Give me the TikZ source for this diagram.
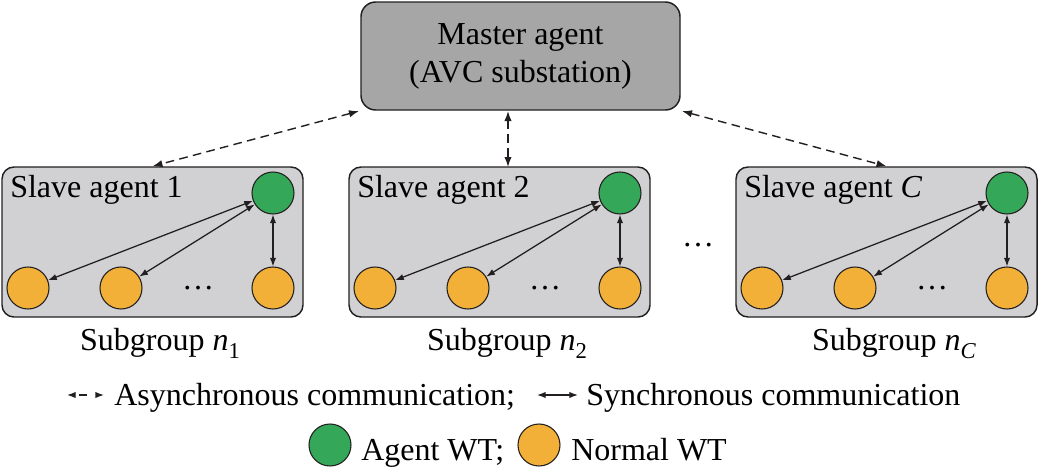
\documentclass[tikz,border=0pt]{standalone}
\usepackage{fontspec}
\setmainfont{Liberation Serif}
\usetikzlibrary{arrows.meta,calc}
\definecolor{wtgreen}{RGB}{52,168,88}
\definecolor{wtorange}{RGB}{243,176,56}
\definecolor{mastergray}{RGB}{166,166,166}
\definecolor{slavegray}{RGB}{209,209,211}
\definecolor{ink}{RGB}{35,31,32}
\newcommand\mysub[1]{\raisebox{-6pt}{\fontsize{17}{17}\selectfont #1}}
\begin{document}
\begin{tikzpicture}[x=0.75pt,y=-0.75pt,
  font=\fontsize{24}{28.5}\selectfont,
  masterbox/.style={draw=ink,line width=1.1pt,fill=mastergray,rounded corners=11pt,
    minimum width=239.25pt,minimum height=81pt,inner sep=0pt,align=center},
  slavebox/.style={draw=ink,line width=1.1pt,fill=slavegray,rounded corners=9pt,
    minimum width=225.75pt,minimum height=112.5pt,inner sep=0pt},
  agentwt/.style={circle,draw=ink,line width=0.8pt,fill=wtgreen,minimum size=31.5pt,inner sep=0pt},
  normalwt/.style={circle,draw=ink,line width=0.8pt,fill=wtorange,minimum size=31.5pt,inner sep=0pt},
  txt/.style={inner sep=0pt},
  sync/.style={draw=ink,line width=0.95pt,{Latex[length=6.5pt,width=4.8pt]}-{Latex[length=6.5pt,width=4.8pt]}},
  async/.style={draw=ink,line width=1.05pt,dash pattern=on 6.5pt off 4pt,
    {Latex[length=7.5pt,width=5.5pt]}-{Latex[length=7.5pt,width=5.5pt]}}
]
\path[use as bounding box] (0,0) rectangle (1041,468);

% master
\node[masterbox] (m) at (520.5,56) {Master agent\\(AVC substation)};

% slave groups
\foreach \i/\bx/\lab/\sb in {1/2/1/1, 2/349/2/2, C/736/\textit{C}/\textit{C}}{
  \node[slavebox] (s\i) at (\bx+150.5,242) {};
  \node[txt,anchor=base west] (sl\i) at (\bx+8,197) {Slave agent \lab};
  \node[agentwt] (g\i) at (\bx+271,193) {};
  \node[normalwt] (oa\i) at (\bx+26,288) {};
  \node[normalwt] (ob\i) at (\bx+119,288) {};
  \node[normalwt] (oc\i) at (\bx+271,288) {};
  \node[txt] (d\i) at (\bx+196,288) {\ldots};
  \draw[sync] (g\i) -- (oa\i);
  \draw[sync] (g\i) -- (ob\i);
  \draw[sync] (g\i) -- (oc\i);
  \node[txt,anchor=base] (sg\i) at (\bx+158,350) {Subgroup \textit{n}\mysub{\sb}};
}
\node[txt] (middots) at (698,245) {\ldots};

% asynchronous links
\coordinate (m2) at (508,111);
\coordinate (s2t) at (508,167);
\draw[async,shorten <=1pt] (m.south west) -- (s1.north);
\draw[async] (m2) -- (s2t);
\draw[async,shorten <=1pt] (m.south east) -- (sC.north);

% legend
\coordinate (la1) at (67,395);
\coordinate (la2) at (104,395);
\draw[draw=ink,line width=1pt,dash pattern=on 0pt off 3pt on 6pt off 30pt,
  {Latex[length=6.5pt,width=4.8pt]}-{Latex[length=6.5pt,width=4.8pt]}] (la1) -- (la2);
\node[txt,anchor=base west] (asynctxt) at (114,405) {Asynchronous communication;};
\coordinate (ls1) at (537,395);
\coordinate (ls2) at (578,395);
\draw[sync] (ls1) -- (ls2);
\node[txt,anchor=base west] (synctxt) at (586,405) {Synchronous communication};

\node[agentwt] (leggreen) at (330,445) {};
\node[txt,anchor=base west] (agenttxt) at (361,460) {Agent WT;};
\node[normalwt] (legorange) at (539,445) {};
\node[txt,anchor=base west] (normaltxt) at (571,460) {Normal WT};
\end{tikzpicture}
\end{document}
